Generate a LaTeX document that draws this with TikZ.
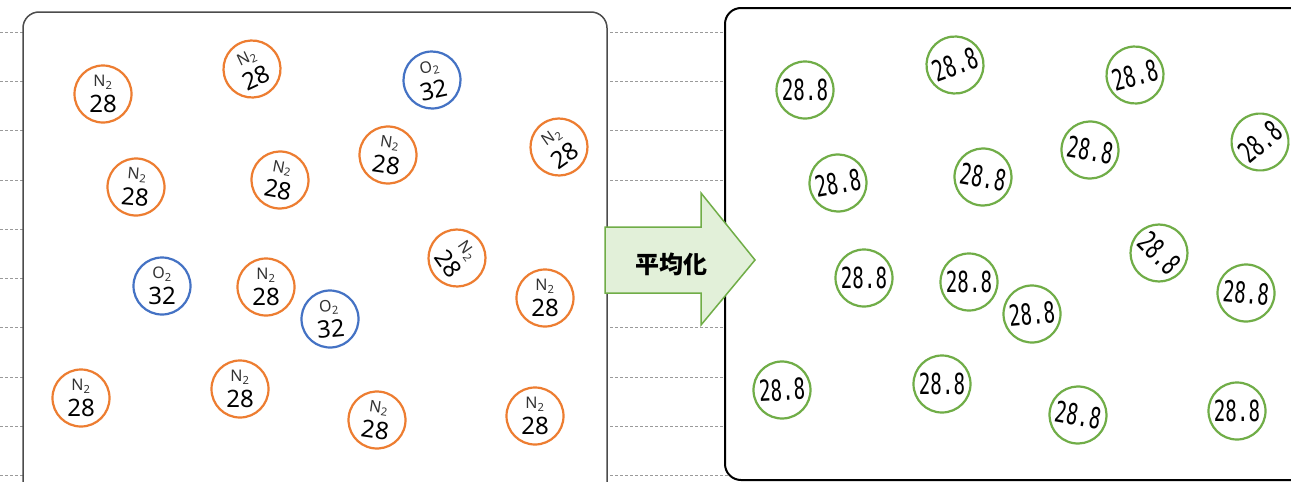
\documentclass[tikz,border=0pt]{standalone}
\usepackage{fontspec}
\setmainfont{Noto Sans}
\newfontfamily\cjk{Noto Sans CJK JP}
\newfontfamily\monof{DejaVu Sans Mono}
\usetikzlibrary{calc}
\definecolor{morange}{HTML}{ED7D31}
\definecolor{mblue}{HTML}{4472C4}
\definecolor{mgreen}{HTML}{70AD47}
\definecolor{afill}{HTML}{E2F0D9}
\definecolor{gline}{HTML}{9A9A9A}
\newcommand{\molN}{{\fontsize{16}{26}\selectfont\color[HTML]{333333}N\textsubscript{2}}\\{\fontsize{24}{26}\selectfont 28}}
\newcommand{\molO}{{\fontsize{16}{26}\selectfont\color[HTML]{333333}O\textsubscript{2}}\\{\fontsize{24}{26}\selectfont 32}}
\newcommand{\molA}{{\fontsize{29}{29}\selectfont\monof\scalebox{0.66}[1]{28.8}}}
\tikzset{
  mol/.style={circle, draw=#1, line width=2.2pt, minimum size=57pt, inner sep=0pt, align=center, fill=white, font=\fontsize{24}{26}\selectfont},
  nmol/.style={mol=morange},
  omol/.style={mol=mblue},
  gmol/.style={mol=mgreen},
  notebook/.style={gline, line width=0.8pt, dash pattern=on 3pt off 2pt},
  leftbox/.style={draw=black!70, line width=1.5pt, rounded corners=16pt, fill=white},
  rightbox/.style={draw=black, line width=2pt, rounded corners=16pt, fill=white},
  bigarrow/.style={draw=mgreen, line width=1.5pt, fill=afill, line join=miter}
}
\begin{document}
\begin{tikzpicture}[x=1pt,y=-1pt]
\useasboundingbox (0,0) rectangle (1291,482);
\clip (0,0) rectangle (1291,482);
\fill[white] (0,0) rectangle (1291,482);
% notebook lines
\foreach \k in {0,...,9} {
  \draw[notebook] (0,{32+49.3*\k}) -- (1291,{32+49.3*\k});
}
% boxes
\path[leftbox] (23,12) rectangle (607,500);
\path[rightbox] (725,8) rectangle (1320,480);
% arrow
\coordinate (a1) at (605,227);
\coordinate (a2) at (701,227);
\coordinate (a3) at (701,193);
\coordinate (a4) at (755,260);
\coordinate (a5) at (701,325);
\coordinate (a6) at (701,293);
\coordinate (a7) at (605,293);
\draw[bigarrow] (a1) -- (a2) -- (a3) -- (a4) -- (a5) -- (a6) -- (a7) -- cycle;
\node[font=\cjk\bfseries\fontsize{24}{24}\selectfont] (lbl) at (671,264) {平均化};
% left molecules
\node[nmol] (l1) at (103,94) {\molN};
\node[nmol, rotate=25] (l2) at (252,69) {\molN};
\node[omol, rotate=12] (l3) at (432,80) {\molO};
\node[nmol, rotate=-8] (l4) at (388,155) {\molN};
\node[nmol, rotate=35] (l5) at (559,147) {\molN};
\node[nmol, rotate=-5] (l6) at (136,187) {\molN};
\node[nmol, rotate=-10] (l7) at (280,180) {\molN};
\node[omol] (l8) at (162,286) {\molO};
\node[nmol] (l9) at (266,287) {\molN};
\node[omol, rotate=5] (l10) at (330,319) {\molO};
\node[nmol, rotate=-55] (l11) at (457,258) {\molN};
\node[nmol] (l12) at (545,298) {\molN};
\node[nmol] (l13) at (81,398) {\molN};
\node[nmol] (l14) at (240,389) {\molN};
\node[nmol, rotate=-8] (l15) at (377,420) {\molN};
\node[nmol] (l16) at (535,416) {\molN};
% right molecules
\node[gmol] (r1) at (805,90) {\molA};
\node[gmol, rotate=20] (r2) at (955,65) {\molA};
\node[gmol, rotate=15] (r3) at (1135,75) {\molA};
\node[gmol, rotate=-10] (r4) at (1090,150) {\molA};
\node[gmol, rotate=40] (r5) at (1260,142) {\molA};
\node[gmol, rotate=10] (r6) at (838,183) {\molA};
\node[gmol, rotate=-10] (r7) at (983,177) {\molA};
\node[gmol] (r8) at (864,278) {\molA};
\node[gmol] (r9) at (969,282) {\molA};
\node[gmol, rotate=5] (r10) at (1032,314) {\molA};
\node[gmol, rotate=-45] (r11) at (1159,253) {\molA};
\node[gmol, rotate=-5] (r12) at (1246,293) {\molA};
\node[gmol, rotate=3] (r13) at (782,390) {\molA};
\node[gmol] (r14) at (942,384) {\molA};
\node[gmol, rotate=-10] (r15) at (1078,415) {\molA};
\node[gmol] (r16) at (1237,411) {\molA};
\end{tikzpicture}
\end{document}
